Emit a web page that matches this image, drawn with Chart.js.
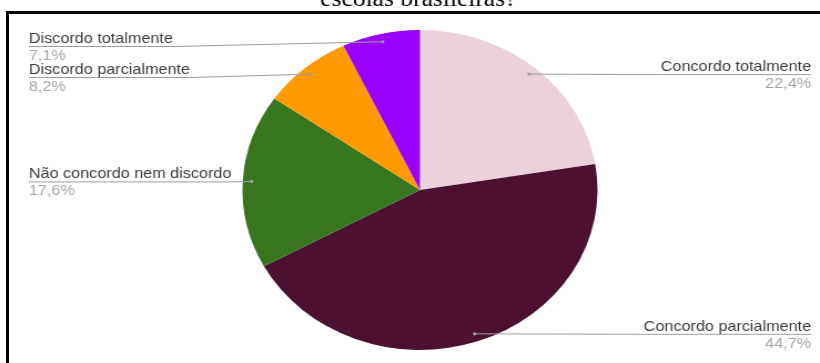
<!DOCTYPE html>
<html>
<head>
<meta charset="utf-8">
<title>Pie</title>
<script src="https://cdn.jsdelivr.net/npm/chart.js@4.4.1/dist/chart.umd.min.js"></script>
<style>
  html, body { margin: 0; padding: 0; background: #fff; overflow: hidden; }
  #page { position: relative; width: 820px; height: 363px; overflow: hidden; }
  #frame {
    position: absolute; left: 6px; top: 11px; right: -5px; bottom: -5px;
    border-top: 3px solid #000; border-left: 3px solid #000;
  }
  /* the chart is drawn narrow and stretched sideways, like the exported image */
  #stretch { position: absolute; left: 0; top: 0; width: 739px; height: 363px;
    transform: scaleX(1.1096); transform-origin: 0 0; }
</style>
</head>
<body>
<div id="page">
  <div id="stretch"><canvas id="myChart" width="739" height="363"></canvas></div>
  <div id="frame"></div>
</div>
<script>
const categories = ['Concordo totalmente', 'Concordo parcialmente', 'Não concordo nem discordo', 'Discordo parcialmente', 'Discordo totalmente']
const shares = [22.4, 44.7, 17.6, 8.2, 7.1]
const sliceColors = ['#ead1dc', '#4c1130', '#38761d', '#ff9900', '#9900ff']
const title = 'escolas brasileiras?'

const pct = (v) => v.toFixed(1).replace('.', ',') + '%'

/* draws each slice's name and share off to the side with a leader line */
const calloutPlugin = {
  id: 'callouts',
  afterDatasetsDraw(chart) {
    const ctx = chart.ctx
    const arcs = chart.getDatasetMeta(0).data
    const left = []
    const right = []
    arcs.forEach((arc, i) => {
      const p = arc.getProps(['x', 'y', 'startAngle', 'endAngle', 'outerRadius'], true)
      const mid = (p.startAngle + p.endAngle) / 2
      const item = {
        i,
        px: p.x + Math.cos(mid) * p.outerRadius * 0.95,
        py: p.y + Math.sin(mid) * p.outerRadius * 0.95
      }
      if (Math.cos(mid) >= 0) right.push(item)
      else left.push(item)
    })

    const place = (list) => {
      list.sort((a, b) => a.py - b.py)
      let prev = -Infinity
      list.forEach((item) => {
        item.lineY = Math.max(item.py, prev + 31, 46)
        prev = item.lineY
      })
    }
    place(left)
    place(right)

    ctx.save()
    ctx.font = '14.6px "Liberation Sans", Arial, sans-serif'
    const draw = (item, side) => {
      const name = categories[item.i]
      const w = ctx.measureText(name).width
      const x0 = side === 'left' ? 26 : 731 - w
      const x1 = x0 + w
      const near = side === 'left' ? x1 : x0
      const far = side === 'left' ? x0 : x1

      ctx.strokeStyle = '#9e9e9e'
      ctx.lineWidth = 1
      ctx.beginPath()
      ctx.moveTo(item.px, item.py)
      ctx.lineTo(near, item.lineY + 0.5)
      ctx.lineTo(far, item.lineY + 0.5)
      ctx.stroke()

      ctx.fillStyle = '#9e9e9e'
      ctx.beginPath()
      ctx.arc(item.px, item.py, 1.6, 0, Math.PI * 2)
      ctx.fill()

      ctx.textBaseline = 'alphabetic'
      ctx.textAlign = side === 'left' ? 'left' : 'right'
      const tx = side === 'left' ? x0 : x1
      ctx.fillStyle = '#3c3c3c'
      ctx.fillText(name, tx, item.lineY - 3)
      ctx.fillStyle = '#a6a6a6'
      ctx.fillText(pct(shares[item.i]), tx, item.lineY + 14)
    }
    left.forEach((item) => draw(item, 'left'))
    right.forEach((item) => draw(item, 'right'))

    ctx.font = '23px "Liberation Serif", "Times New Roman", serif'
    ctx.fillStyle = '#000'
    ctx.textAlign = 'center'
    ctx.textBaseline = 'alphabetic'
    ctx.fillText(title, 377, 6)
    ctx.restore()
  }
}

const drawChart = () => {
  const ctx = document.getElementById('myChart').getContext('2d')
  new Chart(ctx, {
    type: 'pie',
    data: {
      labels: categories,
      datasets: [{
        data: shares,
        backgroundColor: sliceColors,
        borderWidth: 0
      }]
    },
    options: {
      responsive: false,
      animation: false,
      layout: { padding: { left: 100, right: 82, top: 30, bottom: 13 } },
      plugins: {
        legend: { display: false },
        tooltip: { enabled: false }
      }
    },
    plugins: [calloutPlugin]
  })
}

window.addEventListener('load', drawChart)
</script>
</body>
</html>
